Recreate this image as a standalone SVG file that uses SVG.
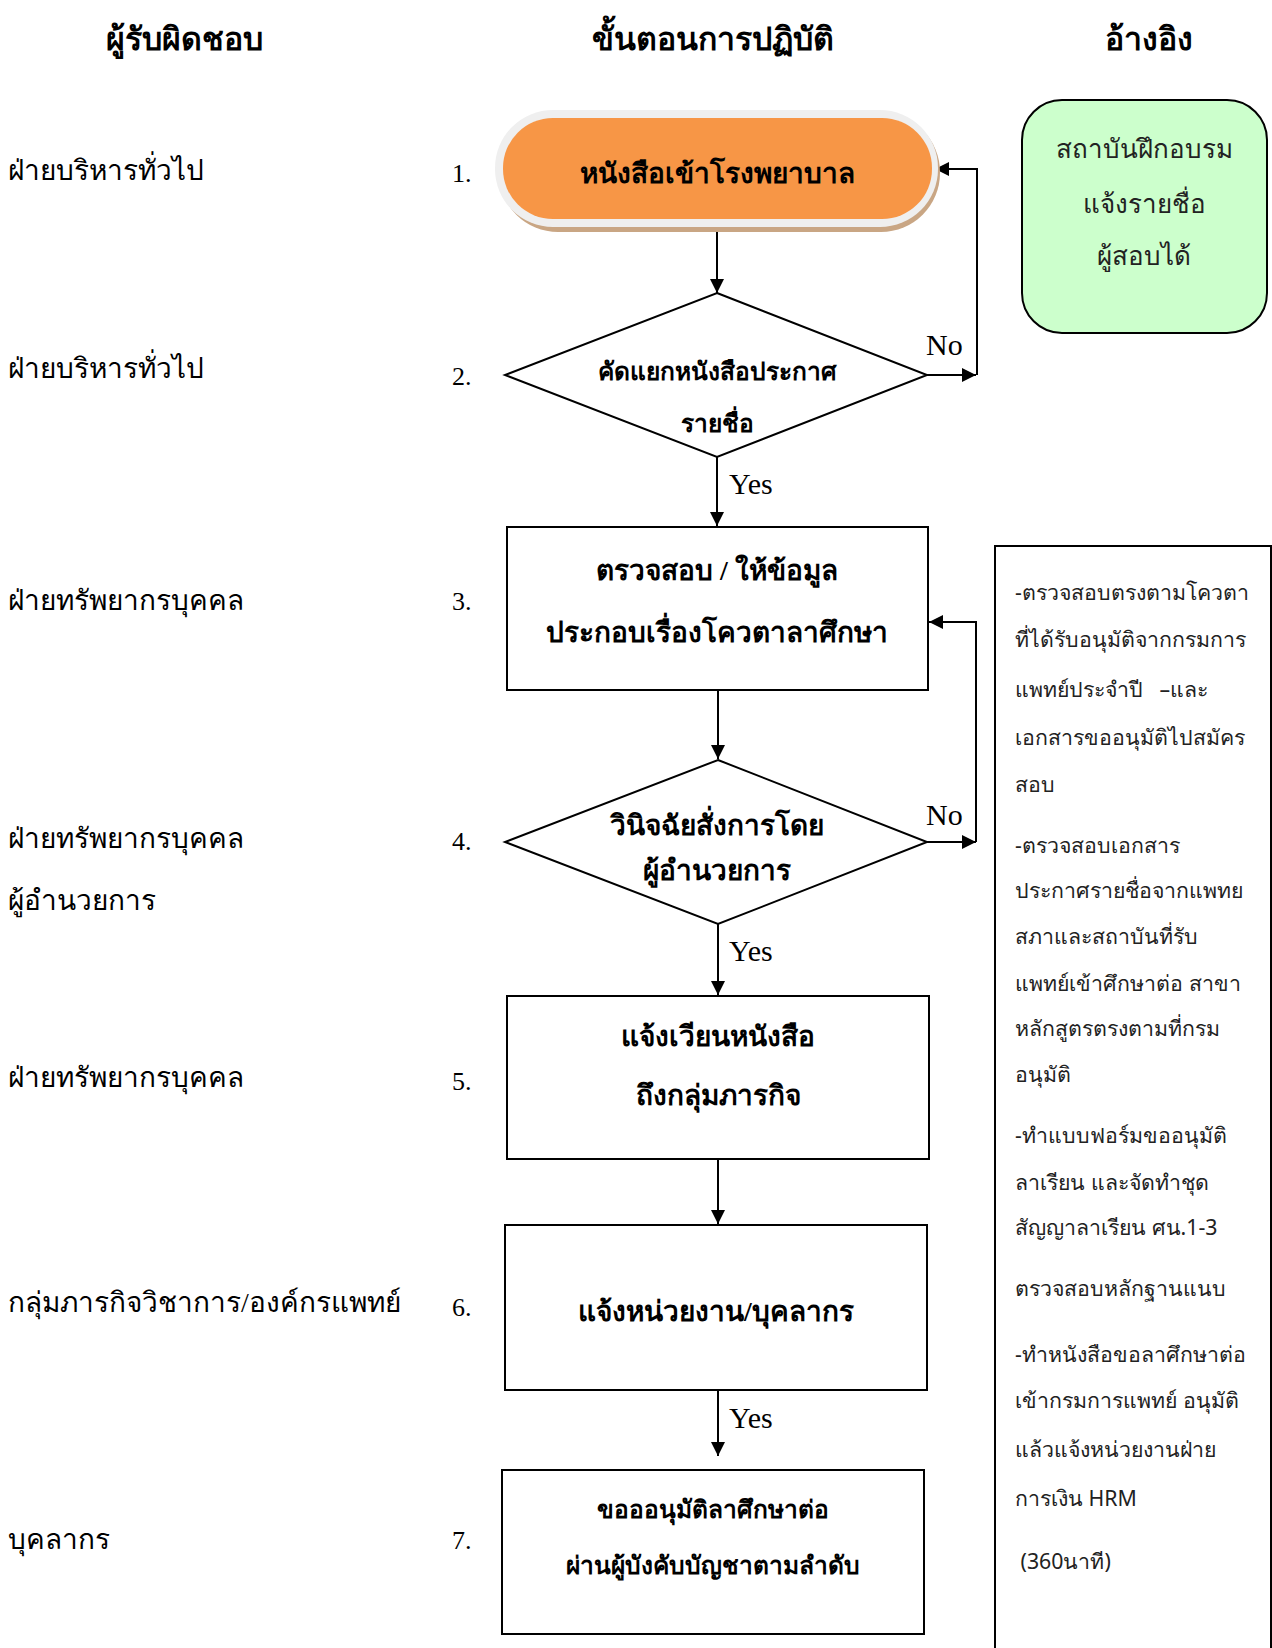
<svg xmlns="http://www.w3.org/2000/svg" width="1272" height="1648" viewBox="0 0 1272 1648">
<style>
.hd{font-family:"Liberation Serif",serif;font-size:32px;font-weight:bold;text-anchor:middle;fill:#000}
.lt{font-family:"Liberation Serif",serif;font-size:28px;fill:#000}
.num{font-family:"Liberation Serif",serif;font-size:26px;fill:#000}
.bt{font-family:"Liberation Serif",serif;font-size:28px;font-weight:bold;text-anchor:middle;fill:#000}
.bs{font-family:"Liberation Serif",serif;font-size:24.5px;font-weight:bold;text-anchor:middle;fill:#000}
.lbl{font-family:"Liberation Serif",serif;font-size:30px;fill:#000}
.gt{font-family:"Liberation Serif",serif;font-size:26px;text-anchor:middle;fill:#222}
.rt{font-family:"Noto Sans","DejaVu Sans",sans-serif;font-size:21.3px;fill:#222}
.box{fill:#fff;stroke:#000;stroke-width:2}
.ln{fill:none;stroke:#000;stroke-width:2}
</style>
<defs>
<marker id="ah" viewBox="0 0 10 10" refX="10" refY="5" markerWidth="14" markerHeight="14" markerUnits="userSpaceOnUse" orient="auto">
<path d="M0,0 L10,5 L0,10 Z" fill="#000"/>
</marker>
</defs>
<rect width="1272" height="1648" fill="#fff"/>
<g id="headers">
<text class="hd" x="184" y="50">ผู้รับผิดชอบ</text>
<text class="hd" x="713" y="50">ขั้นตอนการปฏิบัติ</text>
<text class="hd" x="1149" y="50">อ้างอิง</text>
</g>
<g id="responsible">
<text class="lt" x="8" y="180">ฝ่ายบริหารทั่วไป</text>
<text class="lt" x="8" y="378">ฝ่ายบริหารทั่วไป</text>
<text class="lt" x="8" y="610">ฝ่ายทรัพยากรบุคคล</text>
<text class="lt" x="8" y="848">ฝ่ายทรัพยากรบุคคล</text>
<text class="lt" x="8" y="910">ผู้อำนวยการ</text>
<text class="lt" x="8" y="1087">ฝ่ายทรัพยากรบุคคล</text>
<text class="lt" x="8" y="1312">กลุ่มภารกิจวิชาการ/องค์กรแพทย์</text>
<text class="lt" x="8" y="1549">บุคลากร</text>
</g>
<g id="numbers">
<text class="num" x="452" y="182">1.</text>
<text class="num" x="452" y="385">2.</text>
<text class="num" x="452" y="610">3.</text>
<text class="num" x="452" y="850">4.</text>
<text class="num" x="452" y="1090">5.</text>
<text class="num" x="452" y="1316">6.</text>
<text class="num" x="452" y="1549">7.</text>
</g>
<g id="connectors">
<path class="ln" d="M717 228 V293" marker-end="url(#ah)"/>
<path class="ln" d="M927 375 H976" marker-end="url(#ah)"/>
<path class="ln" d="M977 375 V169 H935" marker-end="url(#ah)"/>
<path class="ln" d="M717 457 V526" marker-end="url(#ah)"/>
<path class="ln" d="M718 690 V759" marker-end="url(#ah)"/>
<path class="ln" d="M927 842 H976" marker-end="url(#ah)"/>
<path class="ln" d="M976 842 V622 H929" marker-end="url(#ah)"/>
<path class="ln" d="M718 924 V995" marker-end="url(#ah)"/>
<path class="ln" d="M718 1159 V1224" marker-end="url(#ah)"/>
<path class="ln" d="M718 1390 V1456" marker-end="url(#ah)"/>
<text class="lbl" x="926" y="355">No</text>
<text class="lbl" x="926" y="825">No</text>
<text class="lbl" x="729" y="494">Yes</text>
<text class="lbl" x="729" y="961">Yes</text>
<text class="lbl" x="729" y="1428">Yes</text>
</g>
<g id="n1">
<rect x="499" y="113" width="441" height="119" rx="59" fill="#C9A684"/>
<rect x="495" y="110" width="443" height="117" rx="58" fill="#EFEFEF"/>
<rect x="503" y="118" width="429" height="101" rx="50" fill="#F79646"/>
<text class="bt" x="717" y="183">หนังสือเข้าโรงพยาบาล</text>
</g>
<g id="n2">
<polygon class="box" points="717,293 927,375 717,457 505,375"/>
<text class="bs" x="717" y="380">คัดแยกหนังสือประกาศ</text>
<text class="bs" x="717" y="432">รายชื่อ</text>
</g>
<g id="n3">
<rect class="box" x="507" y="527" width="421" height="163"/>
<text class="bt" x="717" y="580">ตรวจสอบ / ให้ข้อมูล</text>
<text class="bt" x="717" y="642">ประกอบเรื่องโควตาลาศึกษา</text>
</g>
<g id="n4">
<polygon class="box" points="718,760 927,842 718,924 505,842"/>
<text class="bt" x="717" y="835">วินิจฉัยสั่งการโดย</text>
<text class="bt" x="717" y="880">ผู้อำนวยการ</text>
</g>
<g id="n5">
<rect class="box" x="507" y="996" width="422" height="163"/>
<text class="bt" x="718" y="1046">แจ้งเวียนหนังสือ</text>
<text class="bt" x="718" y="1105">ถึงกลุ่มภารกิจ</text>
</g>
<g id="n6">
<rect class="box" x="505" y="1225" width="422" height="165"/>
<text class="bt" x="716" y="1321">แจ้งหน่วยงาน/บุคลากร</text>
</g>
<g id="n7">
<rect class="box" x="502" y="1470" width="422" height="164"/>
<text class="bs" x="713" y="1518">ขอออนุมัติลาศึกษาต่อ</text>
<text class="bs" x="713" y="1574">ผ่านผู้บังคับบัญชาตามลำดับ</text>
</g>
<g id="ref1">
<rect x="1022" y="100" width="245" height="233" rx="40" fill="#CCFFCC" stroke="#000" stroke-width="2"/>
<text class="gt" x="1144" y="158">สถาบันฝึกอบรม</text>
<text class="gt" x="1144" y="213">แจ้งรายชื่อ</text>
<text class="gt" x="1144" y="265">ผู้สอบได้</text>
</g>
<g id="ref2">
<path d="M995 1660 V546 H1271 V1660" fill="#fff" stroke="#000" stroke-width="2"/>
<text class="rt" x="1015" y="600">-ตรวจสอบตรงตามโควตา</text>
<text class="rt" x="1015" y="647">ที่ได้รับอนุมัติจากกรมการ</text>
<text class="rt" x="1015" y="697" xml:space="preserve">แพทย์ประจำปี   –และ</text>
<text class="rt" x="1015" y="745">เอกสารขออนุมัติไปสมัคร</text>
<text class="rt" x="1015" y="792">สอบ</text>
<text class="rt" x="1015" y="853">-ตรวจสอบเอกสาร</text>
<text class="rt" x="1015" y="898">ประกาศรายชื่อจากแพทย</text>
<text class="rt" x="1015" y="944">สภาและสถาบันที่รับ</text>
<text class="rt" x="1015" y="991">แพทย์เข้าศึกษาต่อ สาขา</text>
<text class="rt" x="1015" y="1036">หลักสูตรตรงตามที่กรม</text>
<text class="rt" x="1015" y="1082">อนุมัติ</text>
<text class="rt" x="1015" y="1143">-ทำแบบฟอร์มขออนุมัติ</text>
<text class="rt" x="1015" y="1190">ลาเรียน และจัดทำชุด</text>
<text class="rt" x="1015" y="1235">สัญญาลาเรียน ศน.1-3</text>
<text class="rt" x="1015" y="1296">ตรวจสอบหลักฐานแนบ</text>
<text class="rt" x="1015" y="1362">-ทำหนังสือขอลาศึกษาต่อ</text>
<text class="rt" x="1015" y="1408">เข้ากรมการแพทย์ อนุมัติ</text>
<text class="rt" x="1015" y="1457">แล้วแจ้งหน่วยงานฝ่าย</text>
<text class="rt" x="1015" y="1506">การเงิน HRM</text>
<text class="rt" x="1015" y="1569" xml:space="preserve"> (360นาที)</text>
</g>
</svg>
